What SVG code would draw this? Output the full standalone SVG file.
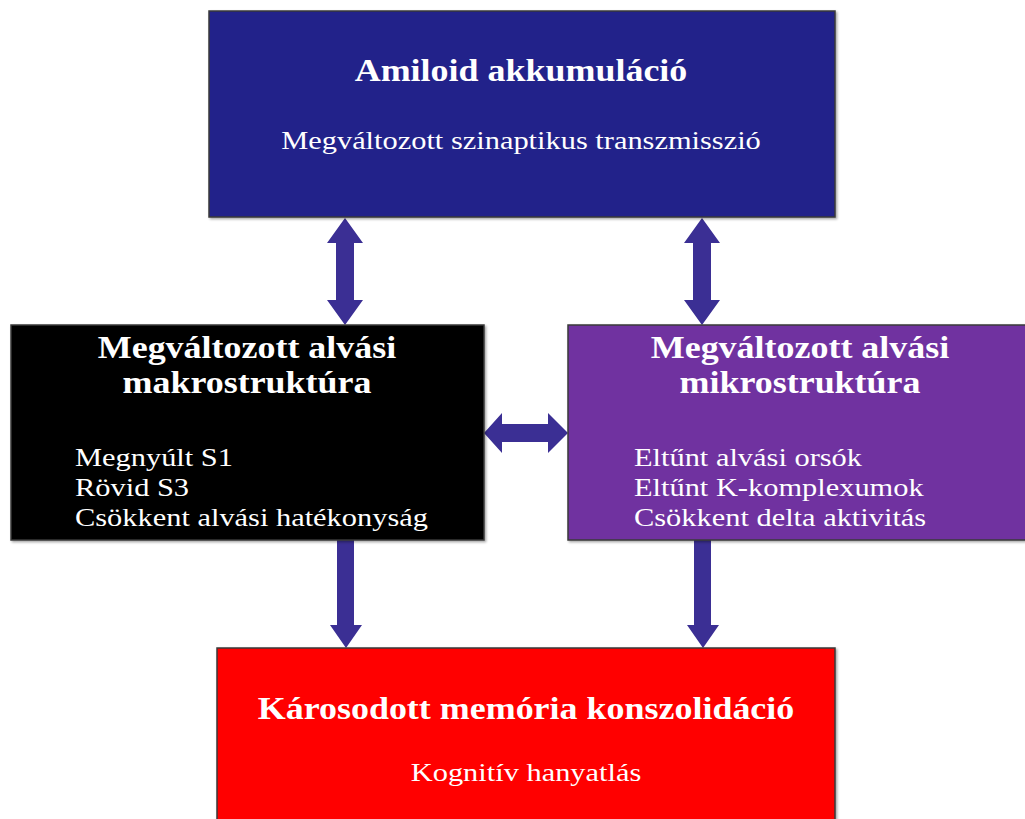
<svg xmlns="http://www.w3.org/2000/svg" width="1025" height="819" viewBox="0 0 1025 819">
  <defs>
    <filter id="shadow" x="-5%" y="-5%" width="110%" height="110%">
      <feDropShadow dx="1.5" dy="1.5" stdDeviation="1" flood-color="#000" flood-opacity="0.35"/>
    </filter>
  </defs>
  <style>
    .box { stroke: #3a3a3a; stroke-width: 1.5; filter: url(#shadow); }
    text { font-family: "Liberation Serif", "Times New Roman", serif; fill: #fff; }
    .title { font-weight: bold; font-size: 31px; text-anchor: middle; }
    .sub { font-size: 26px; text-anchor: middle; }
    .item { font-size: 26px; }
    .arrow { fill: #3b2f94; }
  </style>
  <rect width="1025" height="819" fill="#fff"/>

  <!-- connectors: block arrows between the boxes -->
  <g id="connectors">
    <!-- top box <-> macrostructure -->
    <polygon class="arrow" points="345,218 363,243 354,243 354,300 363,300 345,325 327,300 336,300 336,243 327,243"/>
    <!-- top box <-> microstructure -->
    <polygon class="arrow" points="702,218 720,243 711,243 711,300 720,300 702,325 684,300 693,300 693,243 684,243"/>
    <!-- macrostructure <-> microstructure -->
    <polygon class="arrow" points="484,433 502,413 502,424 548,424 548,413 568,433 548,453 548,442 502,442 502,453"/>
    <!-- macrostructure -> memory -->
    <polygon class="arrow" points="337,540 354,540 354,625 362,625 346,648 330,625 337,625"/>
    <!-- microstructure -> memory -->
    <polygon class="arrow" points="694,540 711,540 711,625 719,625 703,648 687,625 694,625"/>
  </g>

  <!-- text is set slightly wide (horizontal scale 1.17) -->
  <g id="amiloid">
    <rect class="box" x="209" y="11" width="626" height="206" fill="#23238a"/>
    <text class="title" transform="translate(521 81) scale(1.16 1)">Amiloid akkumuláció</text>
    <text class="sub" transform="translate(521 149) scale(1.17 1)">Megváltozott szinaptikus transzmisszió</text>
  </g>

  <g id="makrostruktura">
    <rect class="box" x="11" y="325" width="473" height="215" fill="#000"/>
    <text class="title" transform="translate(247 358) scale(1.16 1)">Megváltozott alvási</text>
    <text class="title" transform="translate(247 393) scale(1.16 1)">makrostruktúra</text>
    <text class="item" transform="translate(75 466) scale(1.17 1)">Megnyúlt S1</text>
    <text class="item" transform="translate(75 496) scale(1.17 1)">Rövid S3</text>
    <text class="item" transform="translate(75 526) scale(1.17 1)">Csökkent alvási hatékonyság</text>
  </g>

  <g id="mikrostruktura">
    <rect class="box" x="568" y="325" width="460" height="215" fill="#7030a0"/>
    <text class="title" transform="translate(800 358) scale(1.16 1)">Megváltozott alvási</text>
    <text class="title" transform="translate(800 393) scale(1.16 1)">mikrostruktúra</text>
    <text class="item" transform="translate(634 466) scale(1.17 1)">Eltűnt alvási orsók</text>
    <text class="item" transform="translate(634 496) scale(1.17 1)">Eltűnt K-komplexumok</text>
    <text class="item" transform="translate(634 526) scale(1.17 1)">Csökkent delta aktivitás</text>
  </g>

  <g id="memoria">
    <rect class="box" x="217" y="648" width="618" height="175" fill="#ff0000"/>
    <text class="title" transform="translate(526 719) scale(1.16 1)">Károsodott memória konszolidáció</text>
    <text class="sub" transform="translate(526 781) scale(1.17 1)">Kognitív hanyatlás</text>
  </g>
</svg>
